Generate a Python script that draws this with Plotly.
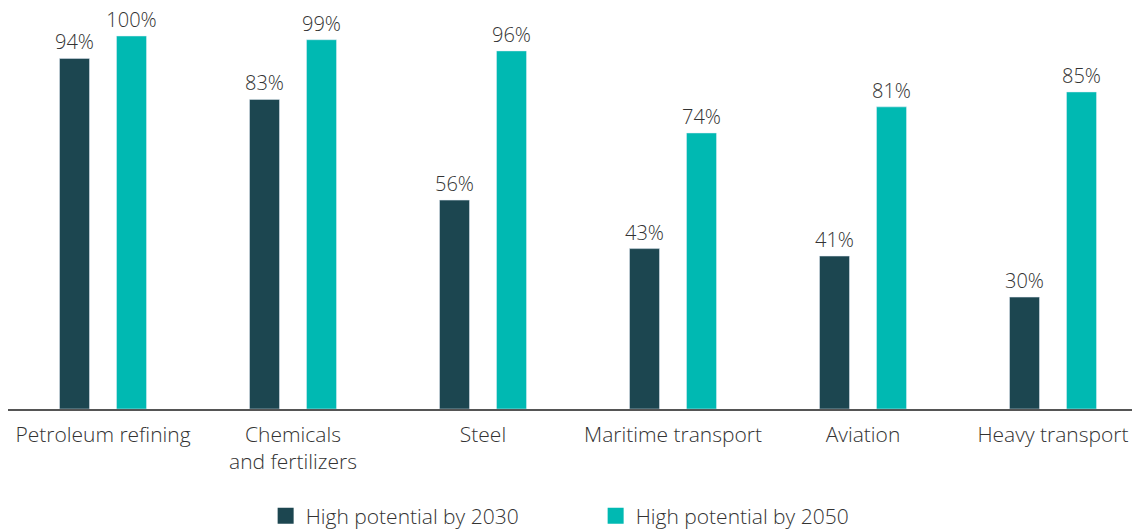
import plotly.graph_objects as go

# sector shares with high potential for hydrogen use
sectors = ['Petroleum refining', 'Chemicals<br>and fertilizers', 'Steel',
           'Maritime transport', 'Aviation', 'Heavy transport']
pot_2030 = [94, 83, 56, 43, 41, 30]
pot_2050 = [100, 99, 96, 74, 81, 85]
names = ['High potential by 2030', 'High potential by 2050']

DARK = '#1c4650'
TEAL = '#00b9b2'
TXT = '#333333'
FONT = 'Open Sans'

x = list(range(len(sectors)))
bar_w = 30 / 190

fig = go.Figure()
for vals, col, off in [(pot_2030, DARK, -28.5), (pot_2050, TEAL, 28.5)]:
    fig.add_trace(go.Bar(
        x=x, y=vals, marker_color=col, width=bar_w,
        offset=off / 190 - bar_w / 2, showlegend=False,
        text=[f'{v}%' for v in vals], textposition='outside',
        constraintext='none',
        textfont=dict(size=20, color=TXT, family=FONT), cliponaxis=False))

# legend entries with bigger square swatches
for nm, col in zip(names, [DARK, TEAL]):
    fig.add_trace(go.Scatter(
        x=[None], y=[None], mode='markers', name=nm,
        marker=dict(symbol='square', size=16, color=col)))

# page body adds 8px; plot runs from y=8 to y=409 on screen
fig.update_layout(
    width=1140, height=529,
    margin=dict(l=0, r=0, t=0, b=128),
    paper_bgcolor='white', plot_bgcolor='white',
    barmode='overlay',
    font=dict(family=FONT, size=21, color=TXT, weight=300),
    xaxis=dict(tickmode='array', tickvals=x, ticktext=sectors,
               range=[-0.5, 5.5], showgrid=False, zeroline=False,
               showline=True, linecolor='#555555', linewidth=1.5,
               ticks='', ticklabelstandoff=6,
               tickfont=dict(size=21, color=TXT)),
    yaxis=dict(range=[0, 401 / 373 * 100], visible=False),
    showlegend=True,
    legend=dict(orientation='h', x=0.226, xanchor='left',
                y=-0.267, yanchor='middle', entrywidth=285,
                itemsizing='trace',
                font=dict(size=21, color=TXT)),
)

fig.write_html('out.html')
